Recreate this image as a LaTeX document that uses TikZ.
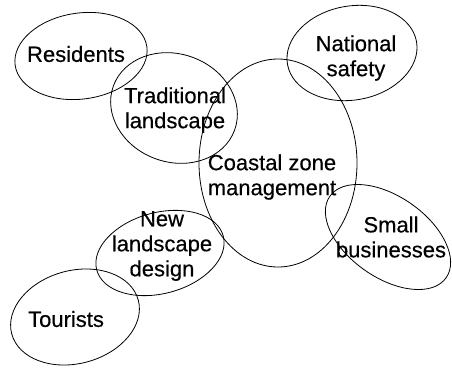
\documentclass[tikz,border=0pt]{standalone}
\usepackage{fontspec}
\setmainfont{Liberation Sans}
\newfontfamily\bubblefont[FakeBold=0.4]{Liberation Sans}
\usetikzlibrary{shapes.geometric}
\begin{document}
\begin{tikzpicture}[x=1pt, y=-1pt,
    bubble/.style={draw, ellipse, line width=0.8pt, inner sep=0pt},
    words/.style={align=center, inner sep=0pt, font=\bubblefont\fontsize{22}{25}\selectfont}]
    \useasboundingbox (0,0) rectangle (452,367);
    %% ellipses
    \node[bubble, minimum width=133, minimum height=86, rotate=8] (res) at (81,56) {}; %% Residents
    \node[bubble, minimum width=129, minimum height=108, rotate=-20] (trad) at (174,108) {}; %% Traditional landscape
    \node[bubble, minimum width=158, minimum height=208] (czm) at (278,163) {}; %% Coastal zone management
    \node[bubble, minimum width=131, minimum height=94, rotate=10] (nat) at (352,53) {}; %% National safety
    \node[bubble, minimum width=142, minimum height=81, rotate=-35] (small) at (388,237) {}; %% Small businesses
    \node[bubble, minimum width=131, minimum height=81, rotate=15] (new) at (160,253) {}; %% New landscape design
    \node[bubble, minimum width=131, minimum height=93, rotate=15] (tour) at (75,317) {}; %% Tourists
    %% texts
    \node[words] (res-t) at (76,54) {Residents};
    \node[words] (trad-t) at (175,110) {Traditional\\landscape};
    \node[words] (czm-t) at (272,177) {Coastal zone\\management};
    \node[words] (nat-t) at (356,58) {National\\safety};
    \node[words] (small-t) at (391,237) {Small\\businesses};
    \node[words] (new-t) at (162,246) {New\\landscape\\design};
    \node[words] (tour-t) at (66,319) {Tourists};
\end{tikzpicture}
\end{document}
